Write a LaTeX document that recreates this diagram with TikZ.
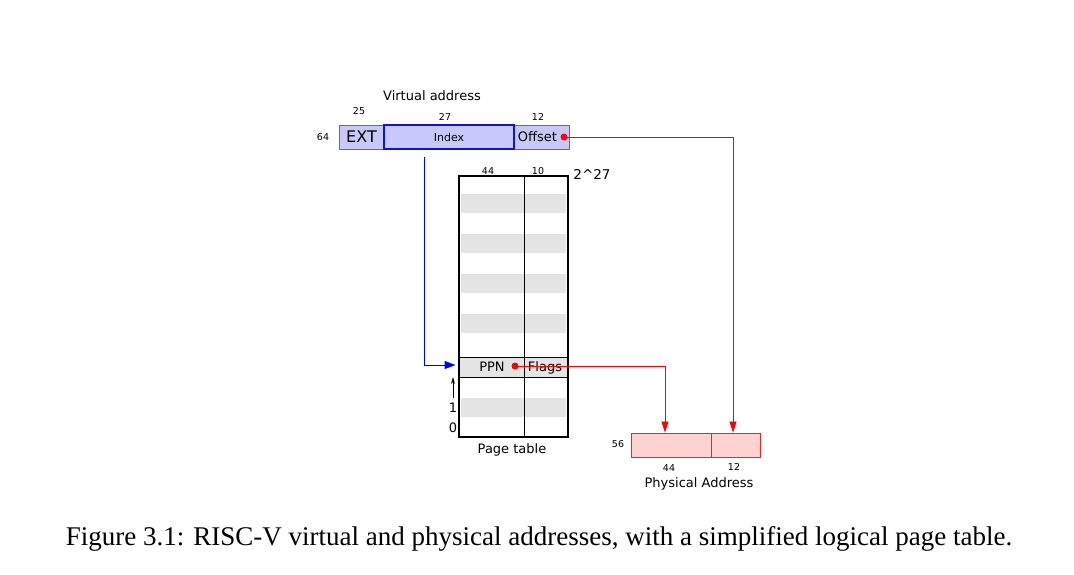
\documentclass[tikz,border=0pt]{standalone}
\usepackage{fontspec}
\setmainfont{Liberation Serif}
\newfontfamily\dv{DejaVu Sans}
\usetikzlibrary{arrows.meta}
\definecolor{vfill}{HTML}{C8C8FA}
\definecolor{vline}{HTML}{5A5AFF}
\definecolor{vdark}{HTML}{1010E0}
\definecolor{pfill}{HTML}{FFD2D2}
\definecolor{pline}{HTML}{E02828}
\definecolor{stripe}{HTML}{E4E4E4}
\tikzset{
  lbl/.style={inner sep=0, font=\dv\fontsize{13}{15}\selectfont},
  small/.style={inner sep=0, font=\dv\fontsize{9.5}{11}\selectfont},
  vbox/.style={draw=vline, fill=vfill, line width=1, inner sep=0, minimum height=24},
  pbox/.style={draw=pline, fill=pfill, line width=0.9, inner sep=0, minimum height=24},
  redline/.style={draw=red, line width=0.85},
  reddot/.style={circle, fill=red, inner sep=0, minimum size=7},
}
\begin{document}
\begin{tikzpicture}[x=1pt,y=-1pt]
\useasboundingbox[fill=white] (0,0) rectangle (1074,574);

% Virtual address
\node[lbl] (vtitle) at (432,96) {Virtual address};
\node[vbox, minimum width=45, font=\dv\fontsize{16}{18}\selectfont] (ext) at (361.5,137) {EXT};
\node[vbox, minimum width=55] (offset) at (541.5,137) {};
\node[lbl] (offtext) at (537.5,137) {Offset};
\node[vbox, draw=vdark, line width=1.6, minimum width=130, font=\dv\fontsize{11}{13}\selectfont] (index) at (449,137) {Index};
\node[small] (n25) at (359,111) {25};
\node[small] (n27) at (445,117) {27};
\node[small] (n12a) at (538,117) {12};
\node[small] (n64) at (323,137) {64};
\node[reddot] (offdot) at (564,137) {};

% Page table stripes
\foreach \y in {194,234,274,314,398}
  \fill[stripe] (461,\y) rectangle (566,\y+19);
\node[draw, fill=stripe, line width=1, minimum width=109, minimum height=20, inner sep=0] (ppnrow) at (513.5,367) {};
\node[draw, line width=1.3, minimum width=109, minimum height=261, inner sep=0] (pt) at (513.5,306.5) {};
\draw[line width=1.3] (pt.north west) ++(66,0) coordinate (divtop) -- (divtop |- pt.south) coordinate (divbot);
\node[lbl] (ppn) at (492,367) {PPN};
\node[lbl] (flags) at (545,367.5) {Flags};
\node[small] (n44a) at (488,171) {44};
\node[small] (n10) at (538,171) {10};
\node[lbl, font=\dv\fontsize{13.5}{15}\selectfont] (n227) at (592,174) {2\^{}27};
\node[lbl] (one) at (453,408) {1};
\node[lbl] (zero) at (453,428) {0};
\node[lbl] (ptlabel) at (512,450) {Page table};
\node[reddot] (ppndot) at (515,366) {};

% Physical address
\node[pbox, minimum width=80] (phys1) at (671,445) {};
\node[pbox, minimum width=49] (phys2) at (735.5,445) {};
\node[small] (n56) at (618,444) {56};
\node[small] (n44b) at (669,468) {44};
\node[small] (n12b) at (734,467) {12};
\node[lbl] (plabel) at (699,484) {Physical Address};

% Connectors
\coordinate (bluestart) at (424,157);
\draw[blue, line width=1, -{Triangle[length=11pt,width=8pt]}] (bluestart) |- ([xshift=-3pt,yshift=2pt]ppnrow.west);
\coordinate (upstart) at (453,398);
\coordinate (upend) at (453,377);
\draw[black, line width=0.8, -{Stealth[length=7pt,width=4pt]}] (upstart) -- (upend);
\draw[redline, -{Triangle[length=11pt,width=7pt]}] (offdot.center) -| ([xshift=-2.5pt]phys2.north);
\draw[redline, -{Triangle[length=11pt,width=7pt]}] (ppndot.center) -| ([xshift=-6pt]phys1.north);

% Caption
\node[inner sep=0, font=\fontsize{27}{32}\selectfont] (caption) at (539,539) {Figure 3.1: RISC-V virtual and physical addresses, with a simplified logical page table.};
\end{tikzpicture}
\end{document}
